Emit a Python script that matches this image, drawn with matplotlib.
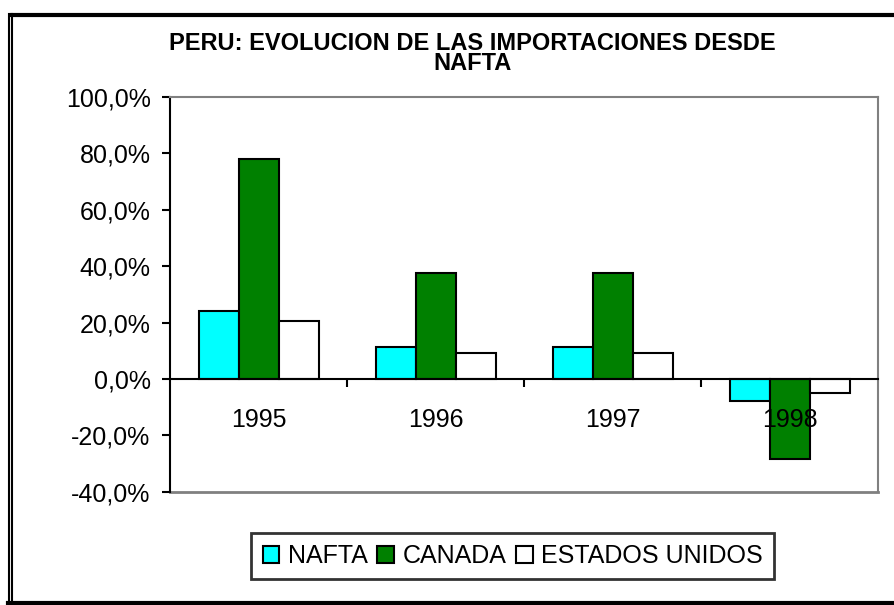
import matplotlib.pyplot as plt
import numpy as np
from matplotlib.lines import Line2D
from matplotlib.ticker import FuncFormatter

plt.rcParams['font.family'] = ['Liberation Sans', 'DejaVu Sans']

# Data (percent change)
years = ['1995', '1996', '1997', '1998']
nafta = [24.2, 11.4, 11.4, -7.7]
canada = [77.9, 37.6, 37.6, -28.2]
eeuu = [20.6, 9.3, 9.3, -4.8]

series = [('NAFTA', nafta, '#00FFFF'),
          ('CANADA', canada, '#008000'),
          ('ESTADOS UNIDOS', eeuu, '#FFFFFF')]

fig = plt.figure(figsize=(8.95, 6.05), dpi=100)
ax = fig.add_axes([0.19, 0.187, 0.791, 0.653])

x = np.arange(len(years))
w = 0.226
for i, (name, vals, col) in enumerate(series):
    ax.bar(x + (i - 1) * w, vals, w, color=col, edgecolor='black',
           linewidth=1.5, label=name, zorder=1)

ax.set_xlim(-0.5, len(years) - 0.5)
ax.set_ylim(-40, 100)
ax.set_yticks(np.arange(-40, 101, 20))
ax.yaxis.set_major_formatter(FuncFormatter(lambda v, p: f'{v:.1f}%'.replace('.', ',')))
ax.tick_params(axis='y', labelsize=18, length=6, width=1.5, direction='out', pad=8)

# category axis sits on zero line
ax.spines['bottom'].set_position(('data', 0))
ax.spines['bottom'].set_linewidth(1.5)
ax.spines['left'].set_linewidth(1.5)
for s in ['top', 'right']:
    ax.spines[s].set_color('#808080')
    ax.spines[s].set_linewidth(1.5)
ax.set_xticks(np.arange(0.5, len(years) - 0.5, 1))
ax.set_xticklabels([])
ax.set_xticks(x, minor=True)
ax.set_xticklabels(years, minor=True)
ax.tick_params(axis='x', which='major', length=6, width=1.5, direction='out')
ax.tick_params(axis='x', which='minor', length=0, labelsize=18, pad=21)
ax.xaxis.set_zorder(3)
ax.axhline(-40, color='#808080', linewidth=2, clip_on=False)

# two-line title
fig.text(0.528, 0.911, 'PERU: EVOLUCION DE LAS IMPORTACIONES DESDE\nNAFTA',
         ha='center', va='center', multialignment='center', linespacing=0.85,
         fontsize=17, fontweight='bold')

leg = ax.legend(loc='center', bbox_to_anchor=(0.573, 0.081), bbox_transform=fig.transFigure,
                ncol=3, fontsize=18, frameon=True, fancybox=False, edgecolor='black',
                handlelength=0.65, handleheight=0.65, handletextpad=0.35, columnspacing=0.4,
                borderpad=0.45, borderaxespad=0)
leg.get_frame().set_linewidth(2)

# outer chart frame
fig.add_artist(Line2D([12/895, 1], [1 - 14.5/605] * 2, color='black', linewidth=3))
fig.add_artist(Line2D([8.5/895, 8.5/895], [1 - 14/605, 0], color='black', linewidth=1.5))
fig.add_artist(Line2D([12.5/895, 12.5/895], [1 - 14/605, 0], color='black', linewidth=1.5))
fig.add_artist(Line2D([8/895, 1], [2.5/605] * 2, color='black', linewidth=3))

fig.savefig('out.png', dpi=100)
